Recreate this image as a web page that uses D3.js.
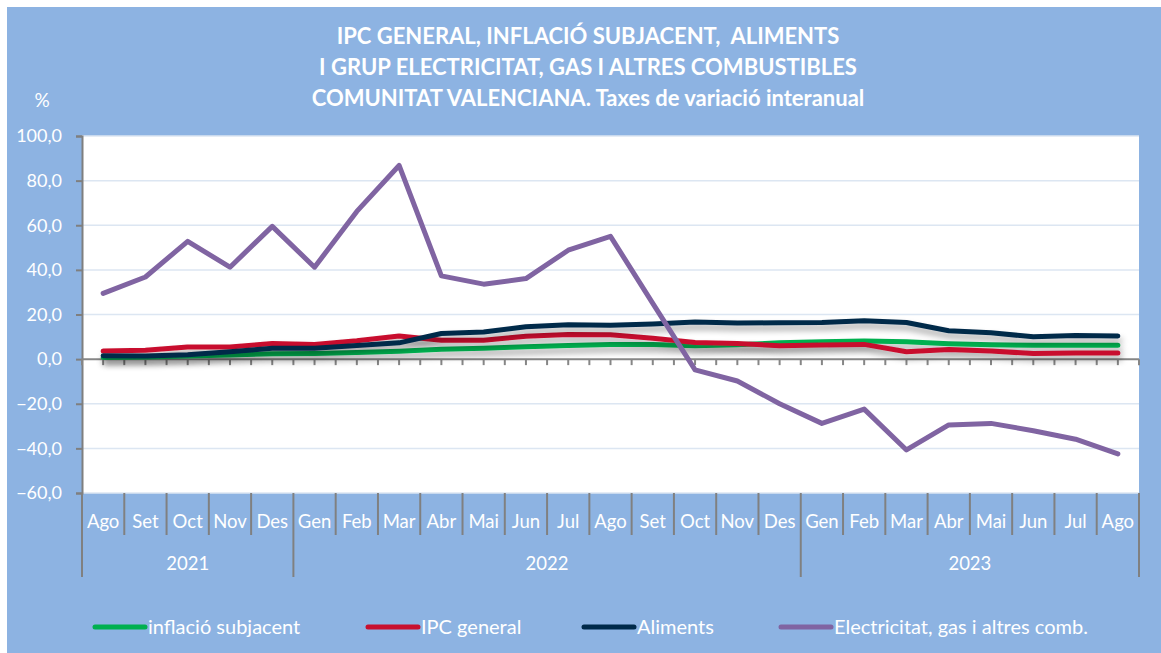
<!DOCTYPE html>
<html>
<head>
<meta charset="utf-8">
<script src="https://cdn.jsdelivr.net/npm/d3@7"></script>
<style>
  body { margin: 0; background: #fff; }
  text { font-family: Lato, "Open Sans", sans-serif; fill: #fff; }
</style>
</head>
<body>
<svg id="chart" width="1161" height="653"></svg>
<script>
// months on the x axis, grouped by year
const months = ["Ago","Set","Oct","Nov","Des",
  "Gen","Feb","Mar","Abr","Mai","Jun","Jul","Ago","Set","Oct","Nov","Des",
  "Gen","Feb","Mar","Abr","Mai","Jun","Jul","Ago"];
const years = [
  { label: "2021", start: 0, end: 5 },
  { label: "2022", start: 5, end: 17 },
  { label: "2023", start: 17, end: 25 }
];

// series values (% yoy)
const subjacent = [0.7, 1.0, 1.4, 1.9, 2.4, 2.5, 3.0, 3.5, 4.4, 4.9, 5.5, 6.1, 6.5,
  6.5, 6.0, 6.4, 7.3, 7.8, 8.1, 7.8, 6.9, 6.4, 6.2, 6.2, 6.2];
const ipcGeneral = [3.6, 4.0, 5.4, 5.4, 7.0, 6.6, 8.2, 10.4, 8.5, 8.5, 10.3, 11.0, 10.9,
  9.4, 7.5, 7.0, 6.0, 6.3, 6.6, 3.3, 4.3, 3.6, 2.5, 2.7, 2.7];
const aliments = [1.5, 1.4, 2.0, 3.3, 4.9, 4.9, 6.1, 7.3, 11.5, 12.2, 14.5, 15.4, 15.2,
  15.7, 16.6, 16.2, 16.3, 16.4, 17.2, 16.4, 12.7, 11.8, 10.0, 10.6, 10.4];
const electricitat = [29.5, 36.8, 52.8, 41.2, 59.5, 41.2, 66.2, 86.8, 37.3, 33.6, 36.1, 48.8, 55.0,
  25.0, -4.8, -9.8, -20.0, -28.8, -22.4, -40.7, -29.5, -28.8, -32.1, -35.9, -42.5];

const seriesNames = ["inflació subjacent", "IPC general", "Aliments", "Electricitat, gas i altres comb."];
const seriesColors = ["#00B050", "#C8102E", "#002A4A", "#8064A2"];
const yTicks = [-60, -40, -20, 0, 20, 40, 60, 80, 100];

const svg = d3.select("#chart");
const W = 1161, H = 653;

// background frame
svg.append("rect").attr("width", W).attr("height", H).attr("fill", "#fff");
svg.append("rect").attr("x", 7).attr("y", 7).attr("width", W - 7).attr("height", H - 7)
  .attr("fill", "#8DB3E2");

// plot area
const plot = { left: 82, right: 1139, top: 136, bottom: 493 };

const x = d3.scaleBand().domain(d3.range(months.length))
  .range([plot.left, plot.right]).paddingInner(0).paddingOuter(0);
const y = d3.scaleLinear().domain([-60, 100]).range([plot.bottom, plot.top]);
const cx = i => x(i) + x.bandwidth() / 2;

svg.append("rect")
  .attr("x", plot.left).attr("y", plot.top)
  .attr("width", plot.right - plot.left).attr("height", plot.bottom - plot.top)
  .attr("fill", "#fff");

// gridlines
svg.append("g").selectAll("line")
  .data(yTicks.filter(d => d !== 0))
  .join("line")
  .attr("x1", plot.left).attr("x2", plot.right)
  .attr("y1", d => y(d)).attr("y2", d => y(d))
  .attr("stroke", "#DCE6F2").attr("stroke-width", 1.5);

// y axis
const fmt = d => d3.format(".1f")(d).replace(".", ",");
const yAxis = svg.append("g")
  .attr("transform", "translate(" + plot.left + ",0)")
  .call(d3.axisLeft(y).tickValues(yTicks).tickFormat(fmt).tickSize(6).tickPadding(14));
yAxis.select(".domain").attr("stroke", "#7F7F7F").attr("stroke-width", 2);
yAxis.selectAll(".tick line").attr("stroke", "#7F7F7F").attr("stroke-width", 2);
yAxis.selectAll(".tick text")
  .attr("fill", "#fff").style("font-size", "18px")
  .style("font-family", "Lato, 'Open Sans', sans-serif");

// zero axis with ticks at boundaries and centres
const zero = y(0);
svg.append("line")
  .attr("x1", plot.left).attr("x2", plot.right)
  .attr("y1", zero).attr("y2", zero)
  .attr("stroke", "#868686").attr("stroke-width", 2);
const halfTicks = d3.range(0, months.length * 2 + 1).map(k => plot.left + k * x.bandwidth() / 2);
svg.append("g").selectAll("line")
  .data(halfTicks)
  .join("line")
  .attr("x1", d => d).attr("x2", d => d)
  .attr("y1", zero).attr("y2", zero + 6)
  .attr("stroke", "#868686").attr("stroke-width", 2);

// category axis below the plot
const catAxis = svg.append("g");
catAxis.selectAll("line.month")
  .data(d3.range(months.length + 1))
  .join("line")
  .attr("class", "month")
  .attr("x1", i => plot.left + i * x.bandwidth())
  .attr("x2", i => plot.left + i * x.bandwidth())
  .attr("y1", plot.bottom)
  .attr("y2", i => years.some(yr => yr.start === i || yr.end === i) ? 577 : 535)
  .attr("stroke", "#808080").attr("stroke-width", 2);

catAxis.selectAll("text.month")
  .data(months)
  .join("text")
  .attr("class", "month")
  .attr("x", (d, i) => cx(i))
  .attr("y", 528)
  .attr("text-anchor", "middle")
  .style("font-size", "18.5px")
  .text(d => d);

catAxis.selectAll("text.year")
  .data(years)
  .join("text")
  .attr("class", "year")
  .attr("x", d => (plot.left + d.start * x.bandwidth() + plot.left + d.end * x.bandwidth()) / 2)
  .attr("y", 570)
  .attr("text-anchor", "middle")
  .style("font-size", "18.5px")
  .text(d => d.label);

// drop shadow for the lines
const defs = svg.append("defs");
const filt = defs.append("filter").attr("id", "shadow")
  .attr("x", "-5%").attr("y", "-50%").attr("width", "110%").attr("height", "250%");
filt.append("feDropShadow")
  .attr("dx", 2).attr("dy", 5).attr("stdDeviation", 3)
  .attr("flood-color", "#000").attr("flood-opacity", 0.35);

// lines
const allSeries = [subjacent, ipcGeneral, aliments, electricitat];
const line = d3.line().x((d, i) => cx(i)).y(d => y(d));
svg.append("g").selectAll("path")
  .data(allSeries)
  .join("path")
  .attr("d", d => line(d))
  .attr("fill", "none")
  .attr("stroke", (d, i) => seriesColors[i])
  .attr("stroke-width", 5)
  .attr("stroke-linejoin", "round")
  .attr("stroke-linecap", "round")
  .attr("filter", (d, i) => i < 3 ? "url(#shadow)" : null);

// title
const titleLines = [
  "IPC GENERAL, INFLACIÓ SUBJACENT,  ALIMENTS",
  "I GRUP ELECTRICITAT, GAS I ALTRES COMBUSTIBLES",
  "COMUNITAT VALENCIANA. Taxes de variació interanual"
];
svg.append("g").selectAll("text")
  .data(titleLines)
  .join("text")
  .attr("x", 588)
  .attr("y", (d, i) => 44 + i * 31)
  .attr("text-anchor", "middle")
  .style("font-size", "22px")
  .style("font-weight", "bold")
  .style("white-space", "pre")
  .text(d => d);

svg.append("text").attr("x", 42).attr("y", 107)
  .attr("text-anchor", "middle").style("font-size", "19px").text("%");

// legend
const legendX = [95, 368, 584, 781];
const leg = svg.append("g").selectAll("g")
  .data(seriesNames)
  .join("g")
  .attr("transform", (d, i) => "translate(" + legendX[i] + ",627)");
leg.append("line")
  .attr("x1", 0).attr("x2", 50).attr("y1", 0).attr("y2", 0)
  .attr("stroke", (d, i) => seriesColors[i])
  .attr("stroke-width", 5).attr("stroke-linecap", "round");
leg.append("text")
  .attr("x", 53).attr("y", 7)
  .style("font-size", "20px")
  .text(d => d);
</script>
</body>
</html>
